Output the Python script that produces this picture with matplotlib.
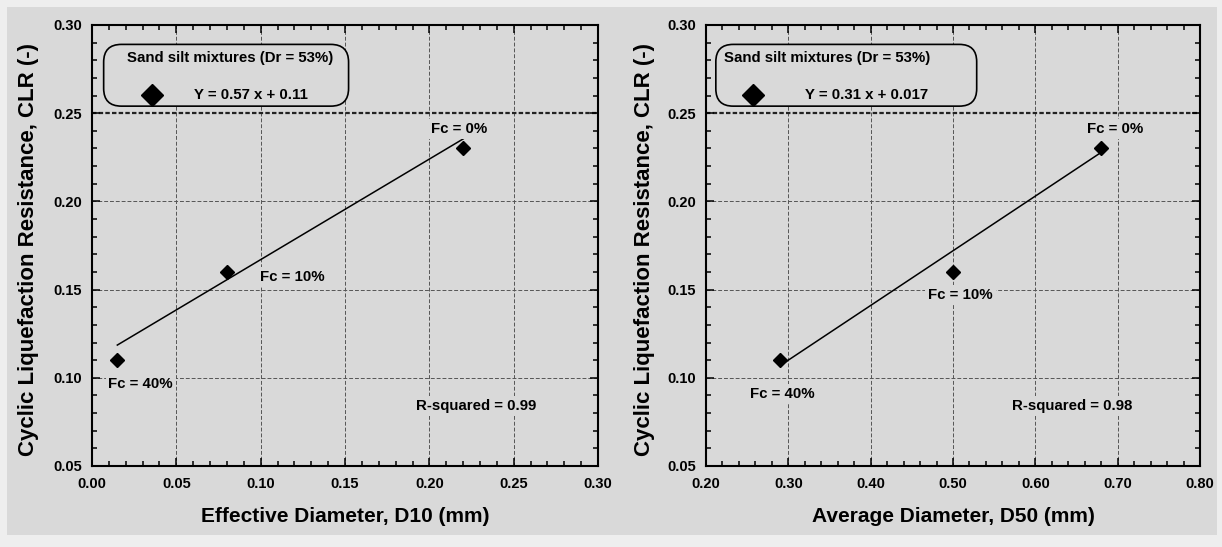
import matplotlib
matplotlib.use("Agg")
import matplotlib.pyplot as plt
import numpy as np
from matplotlib.patches import FancyBboxPatch, Rectangle
from matplotlib.ticker import MultipleLocator

plt.rcParams['font.family'] = ['Liberation Sans', 'DejaVu Sans']
plt.rcParams['font.weight'] = 'bold'
plt.rcParams['axes.labelweight'] = 'bold'

# Sand-silt mixtures, Dr = 53%
d10 = [0.015, 0.08, 0.22]          # effective diameter (mm)
d50 = [0.29, 0.50, 0.68]           # average diameter (mm)
clr = [0.11, 0.16, 0.23]           # cyclic liquefaction resistance
fines = ['Fc = 40%', 'Fc = 10%', 'Fc = 0%']

fit_d10 = (0.57, 0.11)             # slope, intercept
fit_d50 = (0.31, 0.017)
r2_d10 = 0.99
r2_d50 = 0.98

BG = '#d9d9d9'
OUTER = '#eeeeee'
FS = 10.8


def draw_panel(ax, x, fit, r2, xlim, xmajor, xminor, xlabel,
               label_xy, r2_xy, box, title_x, sym_x, eq_x):
    ax.set_facecolor(BG)

    # regression line over the range of the data
    xs = np.array([min(x), max(x)])
    ax.plot(xs, fit[0] * xs + fit[1], color='black', lw=1.1, zorder=3)
    ax.plot(x, clr, ls='none', marker='D', ms=7.5, color='black', zorder=4)

    for txt, (tx, ty) in zip(fines, label_xy):
        ax.text(tx, ty, txt, fontsize=FS, weight='bold', ha='left', va='center',
                zorder=3, bbox=dict(facecolor=BG, edgecolor='none', pad=2))
    ax.text(r2_xy[0], r2_xy[1], f'R-squared = {r2:.2f}', fontsize=FS,
            weight='bold', ha='left', va='center', zorder=3,
            bbox=dict(facecolor=BG, edgecolor='none', pad=2))

    # boxed key in the upper left corner
    bw = ax.get_window_extent().width
    bh = ax.get_window_extent().height
    x0, y0, x1, y1 = box
    ax.add_patch(FancyBboxPatch((x0, y0), x1 - x0, y1 - y0,
                                boxstyle='round,pad=0,rounding_size=0.035',
                                mutation_aspect=bw / bh,
                                transform=ax.transAxes, facecolor=BG,
                                edgecolor='black', lw=1.2, zorder=5))
    ax.text(title_x, 0.925, 'Sand silt mixtures (Dr = 53%)', fontsize=FS,
            weight='bold', ha='center', va='center', transform=ax.transAxes,
            zorder=6)
    ax.plot([sym_x], [0.842], marker='D', ms=11, color='black', ls='none',
            transform=ax.transAxes, zorder=6, clip_on=False)
    ax.text(eq_x, 0.842, f'Y = {fit[0]} x + {fit[1]}', fontsize=FS,
            weight='bold', ha='center', va='center', transform=ax.transAxes,
            zorder=6)

    ax.set_xlim(*xlim)
    ax.set_ylim(0.05, 0.30)
    ax.xaxis.set_major_locator(MultipleLocator(xmajor))
    ax.xaxis.set_minor_locator(MultipleLocator(xminor))
    ax.yaxis.set_major_locator(MultipleLocator(0.05))
    ax.yaxis.set_minor_locator(MultipleLocator(0.01))
    ax.xaxis.set_major_formatter('{x:.2f}')
    ax.yaxis.set_major_formatter('{x:.2f}')
    ax.tick_params(which='both', direction='in', top=True, right=True,
                   width=1.1, labelsize=10.5)
    ax.tick_params(axis='x', which='major', length=6, pad=8)
    ax.tick_params(axis='y', which='major', length=6, pad=7)
    ax.tick_params(which='minor', length=3.5)
    for lab in ax.get_xticklabels() + ax.get_yticklabels():
        lab.set_fontweight('bold')

    ax.grid(True, which='major', ls=(0, (4, 2)), lw=0.7, color='#555555')
    # heavier dotted line at CLR = 0.25
    for tick in ax.yaxis.get_major_ticks():
        if abs(tick.get_loc() - 0.25) < 1e-6:
            tick.gridline.set(lw=1.6, color='#222222', ls=(0, (2, 1)))

    for sp in ax.spines.values():
        sp.set_linewidth(1.5)

    ax.set_xlabel(xlabel, fontsize=15, fontweight='bold')
    ax.set_ylabel('Cyclic Liquefaction Resistance, CLR (-)', fontsize=16,
                  fontweight='bold')
    ax.xaxis.set_label_coords(0.5, -0.093)
    ax.yaxis.set_label_coords(-0.104, 0.49)


fig = plt.figure(figsize=(12.22, 5.47), dpi=100, facecolor=OUTER)
fig.patches.append(Rectangle((0.006, 0.022), 0.99, 0.965, transform=fig.transFigure,
                             facecolor=BG, edgecolor='none', zorder=-10))

ax1 = fig.add_axes([0.0753, 0.1481, 0.4141, 0.8062], zorder=2)
ax2 = fig.add_axes([0.5777, 0.1481, 0.4043, 0.8062], zorder=2)

draw_panel(ax1, d10, fit_d10, r2_d10, (0.0, 0.30), 0.05, 0.01,
           'Effective Diameter, D10 (mm)',
           [(0.0097, 0.0966), (0.0994, 0.157), (0.201, 0.241)], (0.192, 0.084),
           (0.023, 0.816, 0.507, 0.956), 0.273, 0.119, 0.315)

draw_panel(ax2, d50, fit_d50, r2_d50, (0.20, 0.80), 0.10, 0.02,
           'Average Diameter, D50 (mm)',
           [(0.254, 0.091), (0.470, 0.147), (0.663, 0.241)], (0.572, 0.084),
           (0.020, 0.816, 0.548, 0.956), 0.246, 0.095, 0.325)

fig.savefig('out.png', dpi=100, facecolor=fig.get_facecolor())
